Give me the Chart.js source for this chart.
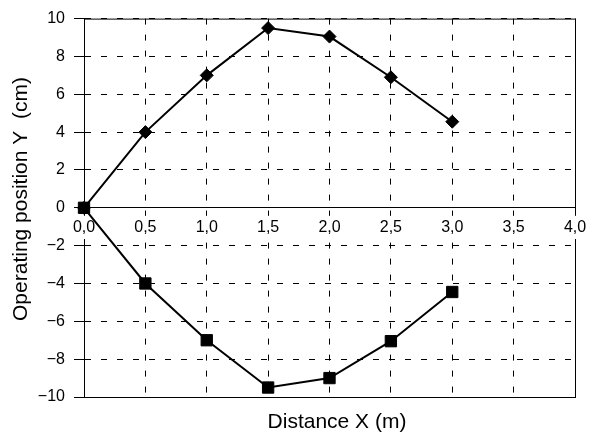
<!DOCTYPE html>
<html>
<head>
<meta charset="utf-8">
<script src="https://cdn.jsdelivr.net/npm/chart.js@4/dist/chart.umd.min.js"></script>
<style>
  html, body { margin: 0; padding: 0; background: #fff; }
  canvas { display: block; }
</style>
</head>
<body>
<canvas id="chart" width="598" height="433"></canvas>
<script>
const xValues = [0, 0.5, 1.0, 1.5, 2.0, 2.5, 3.0];
const upperY = [0, 4.0, 7.0, 9.5, 9.05, 6.9, 4.55];
const lowerY = [0, -4.0, -7.0, -9.5, -9.0, -7.05, -4.45];

const xTicks = [0, 0.5, 1, 1.5, 2, 2.5, 3, 3.5, 4];
const xTickLabels = ['0,0', '0,5', '1,0', '1,5', '2,0', '2,5', '3,0', '3,5', '4,0'];
const yTicks = [-10, -8, -6, -4, -2, 0, 2, 4, 6, 8, 10];
const yTickLabels = ['\u221210', '\u22128', '\u22126', '\u22124', '\u22122', '0', '2', '4', '6', '8', '10'];

const xTitle = 'Distance X (m)';
const yTitle = 'Operating position Y  (cm)';

const fontFamily = "'Liberation Sans', Arial, sans-serif";

function toPoints(xs, ys) {
  return xs.map((x, i) => ({ x, y: ys[i] }));
}

// frame round the plot area (under the tick labels) and the two axis titles
const framePlugin = {
  id: 'frame',
  beforeDraw(chart) {
    const { ctx, chartArea: a } = chart;
    ctx.save();
    ctx.strokeStyle = '#000';
    ctx.lineWidth = 1;
    ctx.strokeRect(a.left + 0.5, a.top + 0.5, a.right - a.left, a.bottom - a.top);
    ctx.restore();
  },
  afterDraw(chart) {
    const ctx = chart.ctx;
    ctx.save();
    ctx.fillStyle = '#000';
    ctx.font = `21px ${fontFamily}`;
    ctx.textAlign = 'center';
    ctx.textBaseline = 'alphabetic';
    ctx.fillText(xTitle, 337, 428);
    ctx.translate(26.5, 199);
    ctx.rotate(-Math.PI / 2);
    ctx.fillText(yTitle, 0, 0);
    ctx.restore();
  }
};

new Chart(document.getElementById('chart'), {
  type: 'scatter',
  data: {
    datasets: [
      {
        data: toPoints(xValues, lowerY),
        showLine: true,
        borderColor: '#000',
        borderWidth: 2,
        backgroundColor: '#000',
        pointStyle: 'rect',
        pointRadius: 8,
        pointBorderWidth: 1,
        clip: false
      },
      {
        data: toPoints(xValues, upperY),
        showLine: true,
        borderColor: '#000',
        borderWidth: 2,
        backgroundColor: '#000',
        pointStyle: 'rectRot',
        pointRadius: 6.5,
        pointBorderWidth: 1,
        clip: false
      }
    ]
  },
  options: {
    responsive: false,
    animation: false,
    devicePixelRatio: 1,
    layout: { padding: { left: 0, right: 23, top: 18, bottom: 36 } },
    plugins: {
      legend: { display: false },
      tooltip: { enabled: false }
    },
    scales: {
      x: {
        type: 'linear',
        position: { y: 0 },
        min: 0,
        max: 4,
        ticks: {
          stepSize: 0.5,
          padding: 10,
          color: '#000',
          font: { family: fontFamily, size: 16 },
          showLabelBackdrop: true,
          backdropColor: '#fff',
          backdropPadding: 2,
          callback: value => xTickLabels[xTicks.indexOf(value)]
        },
        grid: { color: '#000', lineWidth: 1, drawTicks: false },
        border: { display: true, color: '#000', width: 1, dash: [6, 10] }
      },
      y: {
        type: 'linear',
        min: -10,
        max: 10,
        afterFit: scale => { scale.width = 84; },
        ticks: {
          stepSize: 2,
          padding: 9,
          color: '#000',
          font: { family: fontFamily, size: 16 },
          callback: value => yTickLabels[yTicks.indexOf(value)]
        },
        grid: { color: '#000', lineWidth: 1, drawTicks: true, tickLength: 10 },
        border: { display: true, color: '#000', width: 1, dash: [6, 10], z: -1 }
      }
    }
  },
  plugins: [framePlugin]
});
</script>
</body>
</html>
